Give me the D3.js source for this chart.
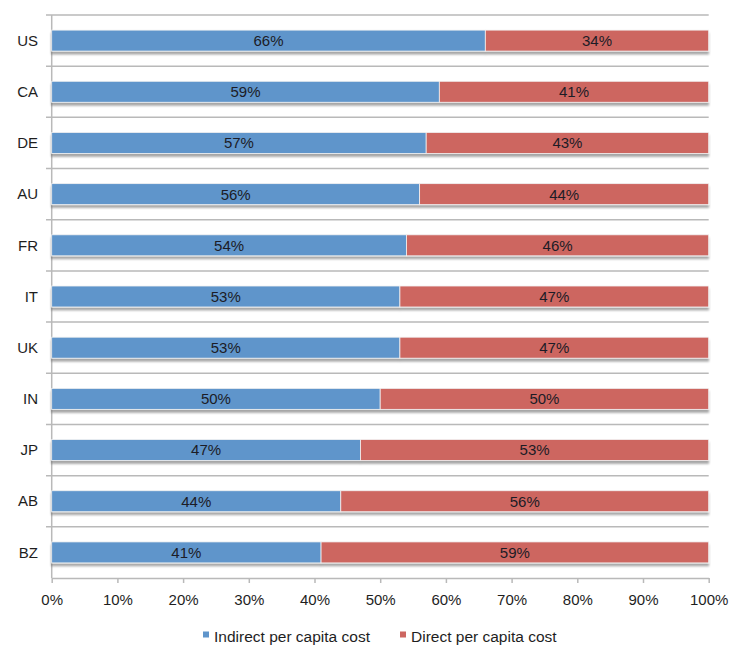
<!DOCTYPE html>
<html><head><meta charset="utf-8">
<script src="https://cdn.jsdelivr.net/npm/d3@7"></script>
<style>body{margin:0;background:#fff;}svg{display:block;font-family:"Liberation Sans",Arial,sans-serif;}</style>
</head><body>
<svg id="c" width="733" height="654"></svg>
<script>
const categories = ["US","CA","DE","AU","FR","IT","UK","IN","JP","AB","BZ"];
const indirect = [66,59,57,56,54,53,53,50,47,44,41];
const direct = [34,41,43,44,46,47,47,50,53,56,59];
const seriesNames = ["Indirect per capita cost","Direct per capita cost"];
const colors = ["#5f95cb","#cd6661"];
const ticks = [0,10,20,30,40,50,60,70,80,90,100];

const svg = d3.select("#c");
const pLeft = 51.7, pRight = 708.7, pTop = 15, pBottom = 578;
const x = d3.scaleLinear().domain([0,100]).range([pLeft,pRight]);
const y = d3.scaleBand().domain(categories).range([pTop,pBottom]).paddingInner(0.59).paddingOuter(0.295);

const defs = svg.append("defs");
const f = defs.append("filter").attr("id","sh").attr("x","-5%").attr("y","-30%").attr("width","110%").attr("height","180%");
f.append("feGaussianBlur").attr("in","SourceAlpha").attr("stdDeviation",1).attr("result","b");
f.append("feOffset").attr("in","b").attr("dx",0).attr("dy",2.5).attr("result","o");
f.append("feComponentTransfer").attr("in","o").attr("result","o2").append("feFuncA").attr("type","linear").attr("slope",0.35);
const m = f.append("feMerge"); m.append("feMergeNode").attr("in","o2"); m.append("feMergeNode").attr("in","SourceGraphic");

// gridlines at band boundaries
const step = (pBottom-pTop)/categories.length;
const bounds = d3.range(categories.length+1).map(i=>pTop+i*step);
svg.append("g").selectAll("line").data(bounds.slice(0,-1)).join("line")
  .attr("x1",46).attr("x2",pRight).attr("y1",d=>d).attr("y2",d=>d)
  .attr("stroke","#b9b9b9").attr("stroke-width",1.5);

// left axis line
svg.append("line").attr("x1",pLeft).attr("x2",pLeft).attr("y1",pTop).attr("y2",pBottom)
  .attr("stroke","#b9b9b9").attr("stroke-width",1.5);

// bottom axis
const xAxis = d3.axisBottom(x).tickValues(ticks).tickFormat(d=>d+"%").tickSize(5).tickSizeOuter(0);
const ax = svg.append("g").attr("transform",`translate(0,${pBottom})`).call(xAxis);
ax.select(".domain").attr("stroke","#b9b9b9").attr("stroke-width",1.5);
ax.selectAll(".tick line").attr("stroke","#b9b9b9").attr("stroke-width",1.5);
ax.selectAll(".tick text").attr("font-size",15).attr("fill","#1e1e1e").attr("y",22).attr("dy","0.35em").attr("font-family","Liberation Sans, Arial, sans-serif");

// category labels
svg.append("g").selectAll("text").data(categories).join("text")
  .attr("x",38).attr("y",d=>y(d)+y.bandwidth()/2).attr("dy","0.35em")
  .attr("text-anchor","end").attr("font-size",15).attr("fill","#1e1e1e").text(d=>d);

// bars
const rows = categories.map((c,i)=>({cat:c, vals:[indirect[i],direct[i]]}));
const g = svg.append("g");
rows.forEach(r=>{
  const gg = g.append("g").attr("filter","url(#sh)");
  let acc = 0;
  r.vals.forEach((v,k)=>{
    gg.append("rect").attr("x",x(acc)).attr("width",x(acc+v)-x(acc))
      .attr("y",y(r.cat)).attr("height",y.bandwidth())
      .attr("fill",colors[k]).attr("stroke","#f2f2f2").attr("stroke-width",0.8);
    acc += v;
  });
});
rows.forEach(r=>{
  let acc = 0;
  r.vals.forEach((v,k)=>{
    g.append("text").attr("x",x(acc+v/2)).attr("y",y(r.cat)+y.bandwidth()/2).attr("dy","0.36em")
      .attr("text-anchor","middle").attr("font-size",15).attr("fill","#1c1c26").text(v+"%");
    acc += v;
  });
});

// legend
const lg = svg.append("g");
const legX = [203,400];
seriesNames.forEach((n,i)=>{
  lg.append("rect").attr("x",legX[i]).attr("y",631.5).attr("width",6).attr("height",6).attr("fill",colors[i]);
  lg.append("text").attr("x",legX[i]+11).attr("y",636.5).attr("dy","0.35em").attr("font-size",15.5).attr("fill","#1e1e1e").text(n);
});
</script>
</body></html>
